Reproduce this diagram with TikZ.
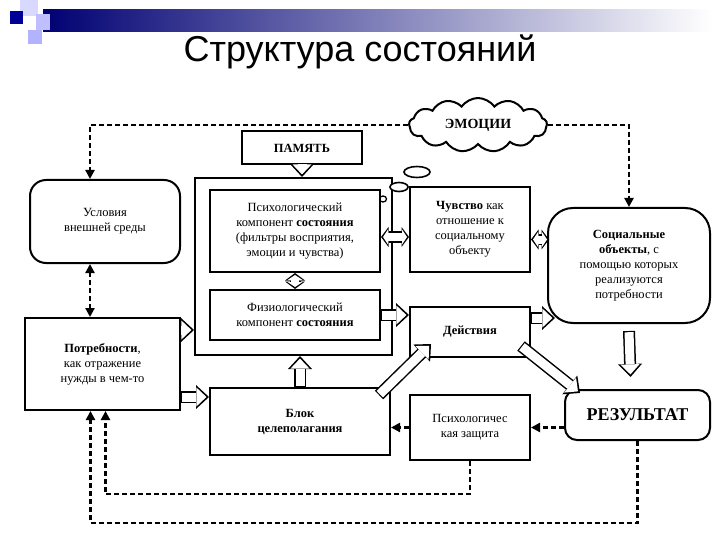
\documentclass[tikz,border=0pt]{standalone}
\usepackage{fontspec}
\setmainfont{Liberation Serif}
\newfontfamily\titlefont{Liberation Sans}
\usetikzlibrary{arrows.meta,shapes.symbols,shapes.geometric,calc}
\begin{document}
\begin{tikzpicture}[x=1pt,y=-1pt,
 box/.style={draw,line width=2pt,align=center,font=\fontsize{12.5}{15}\selectfont,inner sep=2pt},
 rbox/.style={box,rounded corners=16pt},
 hol/.style={white,line width=9pt,-{Triangle[length=10pt,width=19pt,line width=0pt]},shorten >=2.6pt,shorten <=1.2pt,
   preaction={draw,black,line width=12pt,shorten >=0pt,shorten <=0pt,-{Triangle[length=13pt,width=24pt,line width=0pt]}}},
 hol2/.style={white,line width=8pt,{Triangle[length=5pt,width=15pt,line width=0pt]}-{Triangle[length=5pt,width=15pt,line width=0pt]},shorten >=2pt,shorten <=2pt,
   preaction={draw,black,line width=11pt,shorten >=0pt,shorten <=0pt,{Triangle[length=7.5pt,width=20pt,line width=0pt]}-{Triangle[length=7.5pt,width=20pt,line width=0pt]}}},
 dsh/.style={line width=2.2pt,dash pattern=on 5pt off 3pt,-{Triangle[length=9pt,width=9pt]}},
 dsh2/.style={dsh,{Triangle[length=9pt,width=9pt]}-{Triangle[length=9pt,width=9pt]}}]
\useasboundingbox (0,0) rectangle (720,540);
% template decoration
\shade[left color=blue!45!black,right color=white] (43,10) rectangle (712,32);
\fill[blue!15!white] (20,0) rectangle (38,16);
\fill[blue!25!white] (36,14) rectangle (50,30);
\fill[blue!30!white] (28,30) rectangle (42,44);
\fill[blue!60!black] (10,11) rectangle (23,24);
\node[font=\titlefont\fontsize{36}{40}\selectfont] (title) at (360,52) {Структура состояний};
% nodes
\node[box,minimum width=120,minimum height=33] (pam) at (302,148) {\textbf{ПАМЯТЬ}};
\node[draw,line width=2pt,minimum width=197,minimum height=177] (cont) at (293.5,266.5) {};
\node[box,minimum width=170,minimum height=82] (psy) at (295,231) {Психологический\\компонент \textbf{состояния}\\(фильтры восприятия,\\эмоции и чувства)};
\node[box,minimum width=170,minimum height=50] (phy) at (295,315) {Физиологический\\компонент \textbf{состояния}};
\node[rbox,minimum width=150,minimum height=83] (usl) at (105,221.5) {Условия\\внешней среды};
\node[box,minimum width=155,minimum height=92] (potr) at (102.5,364) {\textbf{Потребности},\\как отражение\\нужды в чем-то};
\node[box,minimum width=120,minimum height=85] (chuv) at (470,229.5) {\textbf{Чувство} как\\отношение к\\социальному\\объекту};
\node[rbox,rounded corners=25pt,minimum width=162,minimum height=115] (soc) at (629,265.5) {\textbf{Социальные}\\\textbf{объекты}, с\\помощью которых\\реализуются\\потребности};
\node[box,minimum width=120,minimum height=50] (dej) at (470,332) {\textbf{Действия}};
\node[rbox,rounded corners=12pt,minimum width=145,minimum height=50,font=\fontsize{18}{20}\selectfont] (res) at (637.5,415) {\textbf{РЕЗУЛЬТАТ}};
\node[box,minimum width=180,minimum height=67] (blok) at (300,421.5) {\textbf{Блок}\\\textbf{целеполагания}};
\node[box,minimum width=120,minimum height=65] (zash) at (470,427.5) {Психологичес\\кая защита};
\node[cloud,draw,line width=2pt,cloud puffs=13,cloud puff arc=110,aspect=2.6,minimum width=138,minimum height=54,font=\fontsize{14}{16}\selectfont] (emo) at (478,125) {\textbf{ЭМОЦИИ}};
\node[ellipse,draw,line width=1.6pt,minimum width=26,minimum height=11,inner sep=0] (b1) at (417,172) {};
\node[ellipse,draw,line width=1.6pt,fill=white,minimum width=18,minimum height=9,inner sep=0] (b2) at (399,187) {};
\node[ellipse,draw,line width=1.3pt,minimum width=7,minimum height=6,inner sep=0] (b3) at (383,199) {};
% helper coordinates
\coordinate (a1) at ([yshift=-6pt]psy.east);
\coordinate (a2) at ([yshift=-10pt]chuv.east);
\coordinate (a3) at ([yshift=14pt]dej.east);
\coordinate (a4) at ([yshift=34pt]potr.east);
\coordinate (a5) at ([yshift=-33pt]potr.east);
\coordinate (d1) at ([xshift=-15pt]usl.north);
\coordinate (d2) at ([xshift=-15pt]usl.south);
\coordinate (p1) at ([xshift=3pt]potr.south);
\coordinate (p2) at ([xshift=-12pt]potr.south);
% hollow arrows
\draw[hol] (pam.south) -- (pam.south |- cont.north);
\draw[hol2] (psy.south) -- (phy.north);
\draw[hol2] (a1) -- (chuv.west |- a1);
\draw[hol2] (a2) -- ($(soc.west |- a2)+(2,0)$);
\draw[hol] (phy.east) -- (dej.west |- phy.east);
\draw[hol] (a3) -- ($(soc.west |- a3)+(8,0)$);
\draw[hol] (a4) -- (cont.west |- a4);
\draw[hol] (a5) -- (blok.west |- a5);
\draw[hol] (blok.north) -- (blok.north |- cont.south);
\draw[hol] ($(blok.north east)+(-12,8)$) -- ($(dej.south west)+(22,-14)$);
\draw[hol] ($(dej.south east)+(-10,-12)$) -- ($(res.north west)+(16,4)$);
\draw[hol] ($(soc.south)+(0,7)$) -- ($(res.north)+(-7,-12)$);
% dashed connectors
\draw[dsh] (emo.west) -- (emo.west -| d1) -- (d1);
\draw[dsh] (emo.east) -| (soc.north);
\draw[dsh2] (d2) -- (d2 |- potr.north);
\draw[dsh] (res.west |- zash.east) -- (zash.east);
\draw[dsh] (zash.west) -- (blok.east |- zash.west);
\draw[dsh] (zash.south) -- ++(0,33) -| (p1);
\draw[dsh] (res.south) -- ++(0,82) -| (p2);
\end{tikzpicture}
\end{document}
